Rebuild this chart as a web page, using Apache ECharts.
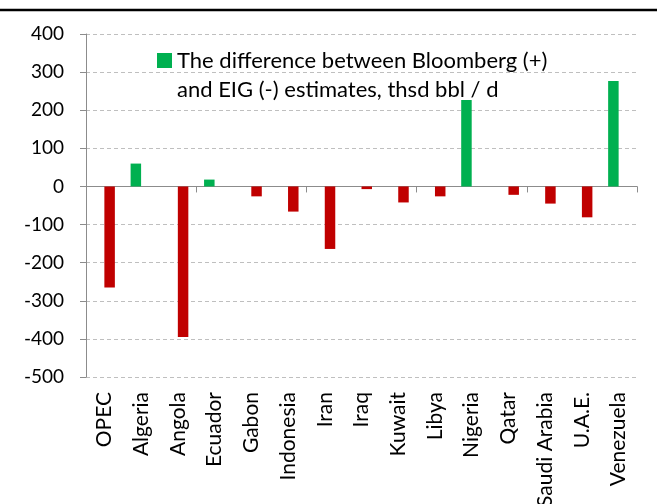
<!DOCTYPE html>
<html>
<head>
<meta charset="utf-8">
<script src="https://cdn.jsdelivr.net/npm/echarts@6/dist/echarts.min.js"></script>
<style>
html,body{margin:0;padding:0;background:#fff;}
#chart{width:659px;height:504px;}
</style>
</head>
<body>
<div id="chart"></div>
<script>
var categories = ['OPEC','Algeria','Angola','Ecuador','Gabon','Indonesia','Iran','Iraq','Kuwait','Libya','Nigeria','Qatar','Saudi Arabia','U.A.E.','Venezuela'];
var bloombergHigher = [null, 60, null, 18, null, null, null, null, null, null, 227, null, null, null, 277];
var eigHigher = [-265, null, -395, null, -26, -66, -164, -7, -42, -26, null, -22, -45, -81, null];
var yTicks = {min: -500, max: 400, interval: 100};
var legendName = 'The difference between Bloomberg (+)\nand EIG (-) estimates, thsd bbl / d';

var FONT = 'Lato';
var chart = echarts.init(document.getElementById('chart'), null, {renderer: 'canvas'});
chart.setOption({
  animation: false,
  backgroundColor: '#ffffff',
  textStyle: {fontFamily: FONT, color: '#000'},
  graphic: [{
    type: 'line',
    shape: {x1: 0, y1: 10, x2: 657, y2: 10},
    style: {stroke: '#000', lineWidth: 2.5}
  }],
  legend: {
    data: [legendName],
    left: 157,
    top: 17,
    padding: 0,
    itemWidth: 15,
    itemHeight: 15,
    selectedMode: false,
    icon: 'rect',
    formatter: function (name) { return '\n' + name; },
    textStyle: {fontFamily: FONT, fontSize: 22, color: '#000', lineHeight: 29}
  },
  grid: {left: 86, right: 22, top: 34, bottom: 127, containLabel: false, outerBoundsMode: 'none'},
  xAxis: [{
    type: 'category',
    data: categories,
    position: 'bottom',
    axisLine: {show: false, onZero: false},
    axisTick: {show: false},
    axisLabel: {rotate: 90, margin: 15, fontSize: 21, fontFamily: FONT, color: '#000', interval: 0}
  }, {
    type: 'category',
    data: categories,
    position: 'top',
    axisLine: {show: true, onZero: true, lineStyle: {color: '#8c8c8c', width: 1}},
    axisTick: {show: true, inside: true, length: 6, lineStyle: {color: '#8c8c8c'}},
    axisLabel: {show: false}
  }],
  yAxis: {
    type: 'value',
    min: yTicks.min,
    max: yTicks.max,
    interval: yTicks.interval,
    axisLine: {show: true, lineStyle: {color: '#8c8c8c', width: 1}},
    axisTick: {show: true, length: 6, lineStyle: {color: '#8c8c8c'}},
    axisLabel: {fontSize: 19, fontFamily: FONT, color: '#000', margin: 22},
    splitLine: {show: true, lineStyle: {color: '#bfbfbf', type: [4, 3], width: 1}}
  },
  series: [{
    name: legendName,
    type: 'bar',
    xAxisIndex: 0,
    data: bloombergHigher,
    barWidth: 10.5,
    barGap: '0%',
    itemStyle: {color: '#00b050'}
  }, {
    name: 'EIG higher',
    type: 'bar',
    xAxisIndex: 0,
    data: eigHigher,
    barWidth: 10.5,
    barGap: '0%',
    itemStyle: {color: '#c00000'}
  }]
});
</script>
</body>
</html>
